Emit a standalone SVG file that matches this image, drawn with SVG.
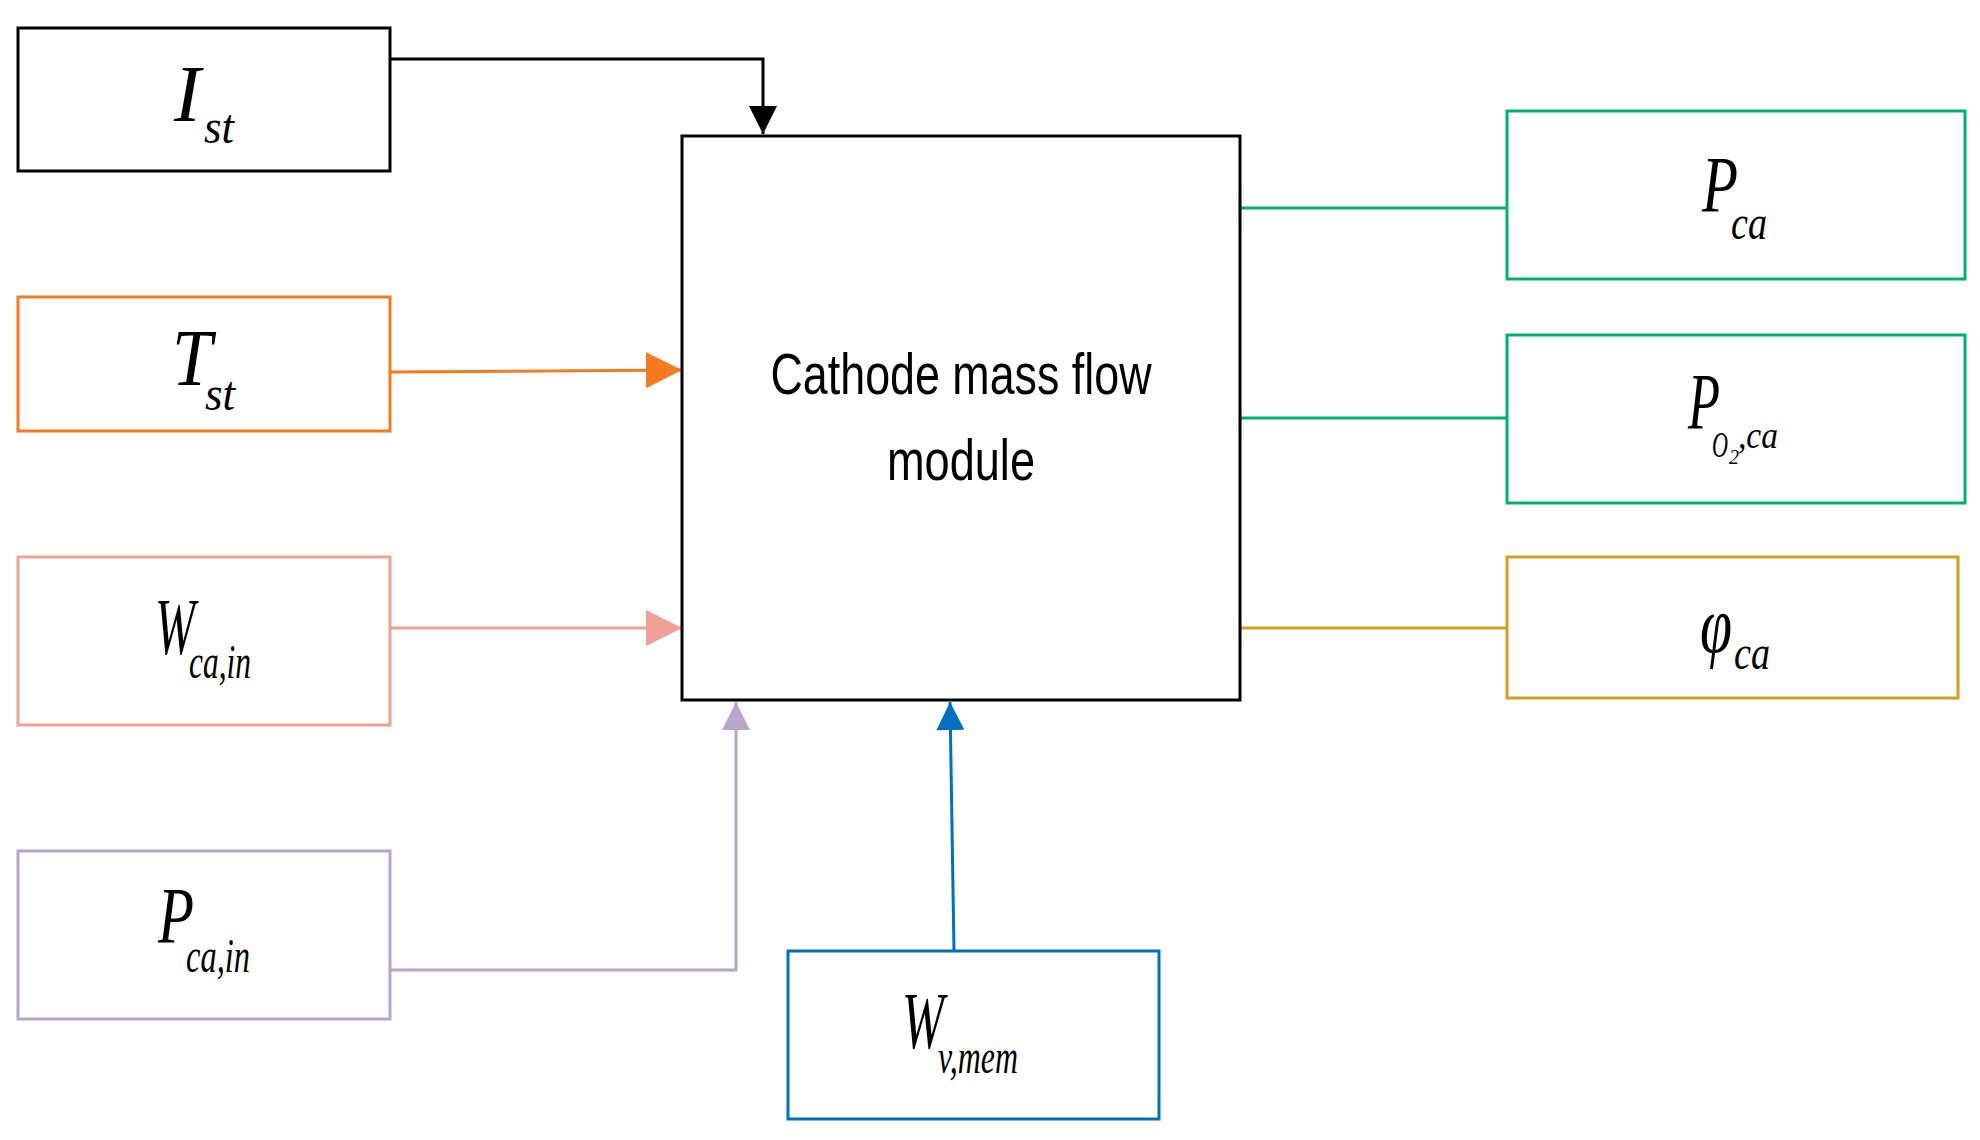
<svg xmlns="http://www.w3.org/2000/svg" width="1980" height="1140" viewBox="0 0 1980 1140">
<defs>
<style>
rect{fill:#fff;stroke-width:3}
.m{font-family:"Liberation Serif",serif;font-style:italic;font-size:80px;fill:#000}
.s{font-family:"Liberation Serif",serif;font-style:italic;font-size:48px;fill:#000}
.c{font-family:"Liberation Sans",sans-serif;font-size:58px;fill:#000;text-anchor:middle}
line,polyline{fill:none;stroke-width:3}
</style>
<marker id="ao" viewBox="0 0 10 10" refX="10" refY="5" markerWidth="36" markerHeight="36" orient="auto" markerUnits="userSpaceOnUse"><path d="M0,0L10,5L0,10z" fill="#f47a1f"/></marker>
<marker id="ap" viewBox="0 0 10 10" refX="10" refY="5" markerWidth="36" markerHeight="36" orient="auto" markerUnits="userSpaceOnUse"><path d="M0,0L10,5L0,10z" fill="#f0a095"/></marker>
<marker id="au" viewBox="0 0 10 10" refX="10" refY="5" markerWidth="36" markerHeight="28" orient="auto" markerUnits="userSpaceOnUse"><path d="M0,0L10,5L0,10z" fill="#b7a5cc"/></marker>
<marker id="ab" viewBox="0 0 10 10" refX="10" refY="5" markerWidth="36" markerHeight="28" orient="auto" markerUnits="userSpaceOnUse"><path d="M0,0L10,5L0,10z" fill="#0070c0"/></marker>
<marker id="kk" viewBox="0 0 10 10" refX="10" refY="5" markerWidth="50" markerHeight="28" orient="auto" markerUnits="userSpaceOnUse"><path d="M0,0L10,5L0,10z" fill="#000"/></marker>
</defs>
<g id="connectors">
<polyline points="390,59 763,59 763,134" stroke="#000" marker-end="url(#kk)"/>
<line x1="390" y1="372" x2="682" y2="370" stroke="#f47a1f" marker-end="url(#ao)"/>
<line x1="390" y1="628" x2="682" y2="628" stroke="#f0a095" marker-end="url(#ap)"/>
<polyline points="390,970 736,970 736,702" stroke="#b7a5cc" marker-end="url(#au)"/>
<line x1="954" y1="951" x2="950" y2="702" stroke="#0070c0" marker-end="url(#ab)"/>
<line x1="1240" y1="208" x2="1507" y2="208" stroke="#00b070"/>
<line x1="1240" y1="418" x2="1507" y2="418" stroke="#00b070"/>
<line x1="1240" y1="628" x2="1507" y2="628" stroke="#d4a020"/>
</g>
<g id="main"><rect x="682" y="136" width="558" height="564" stroke="#000"/>
<text class="c" x="961" y="394" textLength="381" lengthAdjust="spacingAndGlyphs">Cathode mass flow</text>
<text class="c" x="961" y="480" textLength="148" lengthAdjust="spacingAndGlyphs">module</text></g>
<g id="Ist"><rect x="18" y="28" width="372" height="143" stroke="#000"/>
<text class="m" x="174" y="121">I</text><text class="s" x="204" y="143" textLength="30" lengthAdjust="spacingAndGlyphs">st</text></g>
<g id="Tst"><rect x="18" y="297" width="372" height="134" stroke="#f47a1f"/>
<text class="m" x="172" y="385" textLength="40" lengthAdjust="spacingAndGlyphs">T</text><text class="s" x="205" y="410" textLength="30" lengthAdjust="spacingAndGlyphs">st</text></g>
<g id="Wcain"><rect x="18" y="557" width="372" height="168" stroke="#f0a095"/>
<text class="m" x="155" y="654" textLength="40" lengthAdjust="spacingAndGlyphs">W</text><text class="s" x="189" y="678" textLength="62" lengthAdjust="spacingAndGlyphs">ca,in</text></g>
<g id="Pcain"><rect x="18" y="851" width="372" height="168" stroke="#b7a5cc"/>
<text class="m" x="158" y="943" textLength="36" lengthAdjust="spacingAndGlyphs">P</text><text class="s" x="186" y="972" textLength="64" lengthAdjust="spacingAndGlyphs">ca,in</text></g>
<g id="Wvmem"><rect x="788" y="951" width="371" height="168" stroke="#0070c0"/>
<text class="m" x="902" y="1048" textLength="42" lengthAdjust="spacingAndGlyphs">W</text><text class="s" x="938" y="1073" textLength="80" lengthAdjust="spacingAndGlyphs">v,mem</text></g>
<g id="Pca"><rect x="1507" y="111" width="458" height="168" stroke="#00b070"/>
<text class="m" x="1702" y="212" textLength="36" lengthAdjust="spacingAndGlyphs">P</text><text class="s" x="1731" y="239" textLength="36" lengthAdjust="spacingAndGlyphs">ca</text></g>
<g id="PO2ca"><rect x="1507" y="335" width="458" height="168" stroke="#00b070"/>
<text class="m" x="1688" y="429" textLength="32" lengthAdjust="spacingAndGlyphs">P</text><text class="s" x="1712" y="457" style="font-size:36px" textLength="16" lengthAdjust="spacingAndGlyphs">O</text><text class="s" x="1729" y="464" style="font-size:20px">2</text><text class="s" x="1738" y="448" style="font-size:38px" textLength="40" lengthAdjust="spacingAndGlyphs">,ca</text></g>
<g id="phica"><rect x="1507" y="557" width="451" height="141" stroke="#d4a020"/>
<text class="m" x="1700" y="652" textLength="32" lengthAdjust="spacingAndGlyphs">φ</text><text class="s" x="1734" y="669" textLength="36" lengthAdjust="spacingAndGlyphs">ca</text></g>
</svg>
